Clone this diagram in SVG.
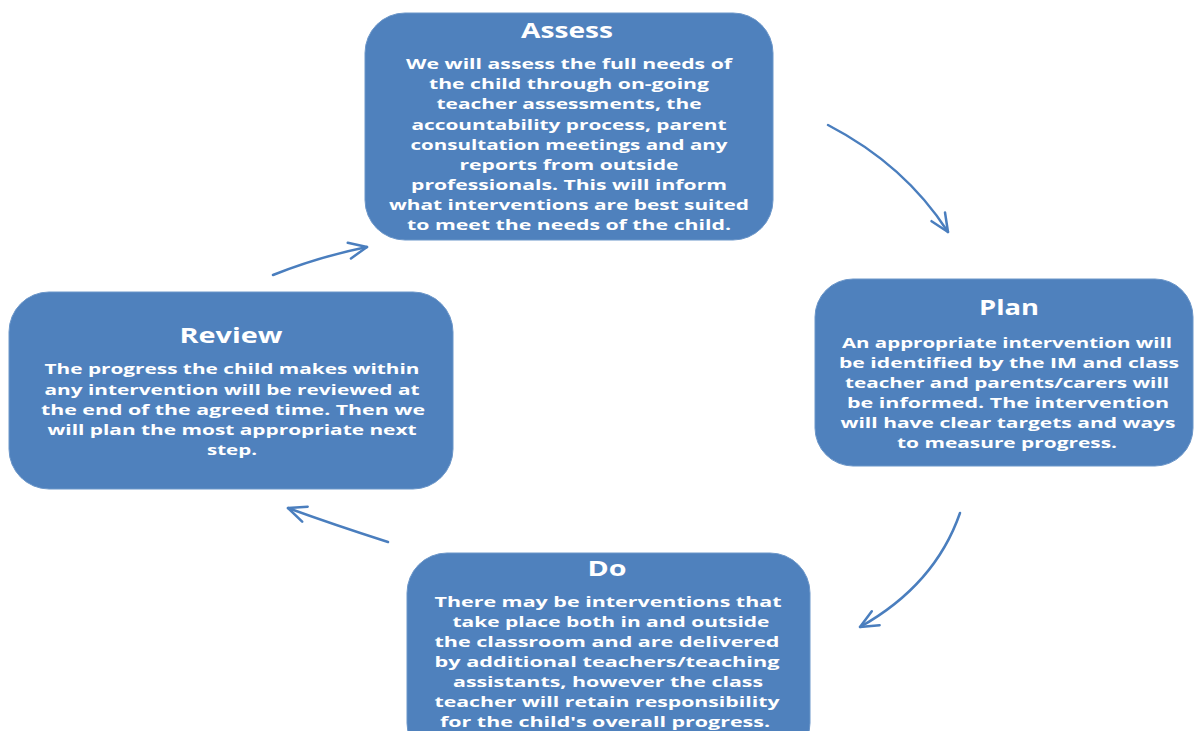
<svg xmlns="http://www.w3.org/2000/svg" width="1194" height="731" viewBox="0 0 1194 731">
<style>
.box{fill:#4F81BD;stroke:#6B96C9;stroke-width:1}
.t{font-family:"Open Sans","Noto Sans",sans-serif;font-weight:700;fill:#FFFFFF;text-anchor:middle}
.h{font-size:21px}
.b{font-size:15px}
.arr{fill:none;stroke:#4A7EBE;stroke-width:2.5;stroke-linecap:round}
</style>
<defs>
<marker id="head" viewBox="0 0 22 22" refX="20" refY="11" markerWidth="22" markerHeight="22" markerUnits="userSpaceOnUse" orient="auto">
<path d="M2,3 L20,11 L2,19" fill="none" stroke="#4A7EBE" stroke-width="2.5" stroke-linecap="round" stroke-linejoin="round"/>
</marker>
</defs>
<rect width="1194" height="731" fill="#FFFFFF"/>
<g id="connectors">
<path class="arr" d="M828,125 Q905,165 948,232" marker-end="url(#head)"/>
<path class="arr" d="M960,513 Q935,585 860,627" marker-end="url(#head)"/>
<path class="arr" d="M388,542 Q332,524 288,508" marker-end="url(#head)"/>
<path class="arr" d="M273,275 Q318,257 367,247" marker-end="url(#head)"/>
</g>
<g id="assess">
<rect class="box" x="365" y="13" width="408" height="227" rx="40"/>
<text class="t h" x="567" y="38" textLength="92" lengthAdjust="spacingAndGlyphs">Assess</text>
<text class="t b" x="569" y="69" textLength="326" lengthAdjust="spacingAndGlyphs">We will assess the full needs of</text>
<text class="t b" x="569" y="89" textLength="280" lengthAdjust="spacingAndGlyphs">the child through on-going</text>
<text class="t b" x="569" y="109" textLength="265" lengthAdjust="spacingAndGlyphs">teacher assessments, the</text>
<text class="t b" x="569" y="130" textLength="315" lengthAdjust="spacingAndGlyphs">accountability process, parent</text>
<text class="t b" x="569" y="150" textLength="317" lengthAdjust="spacingAndGlyphs">consultation meetings and any</text>
<text class="t b" x="569" y="170" textLength="219" lengthAdjust="spacingAndGlyphs">reports from outside</text>
<text class="t b" x="569" y="190" textLength="316" lengthAdjust="spacingAndGlyphs">professionals.  This will inform</text>
<text class="t b" x="569" y="210" textLength="360" lengthAdjust="spacingAndGlyphs">what interventions are best suited</text>
<text class="t b" x="569" y="230" textLength="324" lengthAdjust="spacingAndGlyphs">to meet  the needs of the child.</text>
</g>
<g id="plan">
<rect class="box" x="815" y="279" width="378" height="187" rx="38"/>
<text class="t h" x="1009" y="315" textLength="60" lengthAdjust="spacingAndGlyphs">Plan</text>
<text class="t b" x="1007" y="348" textLength="330" lengthAdjust="spacingAndGlyphs">An appropriate intervention will</text>
<text class="t b" x="1009" y="368" textLength="340" lengthAdjust="spacingAndGlyphs">be identified by the IM and class</text>
<text class="t b" x="1007" y="388" textLength="324" lengthAdjust="spacingAndGlyphs">teacher and parents/carers will</text>
<text class="t b" x="1008" y="408" textLength="322" lengthAdjust="spacingAndGlyphs">be informed.  The intervention</text>
<text class="t b" x="1008" y="428" textLength="335" lengthAdjust="spacingAndGlyphs">will have clear targets and ways</text>
<text class="t b" x="1007" y="448" textLength="220" lengthAdjust="spacingAndGlyphs">to measure progress.</text>
</g>
<g id="review">
<rect class="box" x="9" y="292" width="444" height="197" rx="40"/>
<text class="t h" x="231" y="343" textLength="103" lengthAdjust="spacingAndGlyphs">Review</text>
<text class="t b" x="232" y="374" textLength="375" lengthAdjust="spacingAndGlyphs">The progress the child makes within</text>
<text class="t b" x="232" y="395" textLength="375" lengthAdjust="spacingAndGlyphs">any intervention will be reviewed at</text>
<text class="t b" x="233" y="415" textLength="384" lengthAdjust="spacingAndGlyphs">the end of the agreed time. Then we</text>
<text class="t b" x="232" y="435" textLength="369" lengthAdjust="spacingAndGlyphs">will plan the most appropriate next</text>
<text class="t b" x="232" y="455" textLength="50" lengthAdjust="spacingAndGlyphs">step.</text>
</g>
<g id="do">
<rect class="box" x="407" y="553" width="403" height="210" rx="40"/>
<text class="t h" x="607" y="576" textLength="39" lengthAdjust="spacingAndGlyphs">Do</text>
<text class="t b" x="608" y="607" textLength="347" lengthAdjust="spacingAndGlyphs">There may be interventions that</text>
<text class="t b" x="611" y="627" textLength="317" lengthAdjust="spacingAndGlyphs">take place both in and outside</text>
<text class="t b" x="607" y="647" textLength="345" lengthAdjust="spacingAndGlyphs">the classroom and are delivered</text>
<text class="t b" x="607" y="667" textLength="345" lengthAdjust="spacingAndGlyphs">by additional teachers/teaching</text>
<text class="t b" x="608" y="687" textLength="310" lengthAdjust="spacingAndGlyphs">assistants, however the class</text>
<text class="t b" x="607" y="707" textLength="345" lengthAdjust="spacingAndGlyphs">teacher will retain responsibility</text>
<text class="t b" x="605" y="727" textLength="330" lengthAdjust="spacingAndGlyphs">for the child's overall progress.</text>
</g>
</svg>
